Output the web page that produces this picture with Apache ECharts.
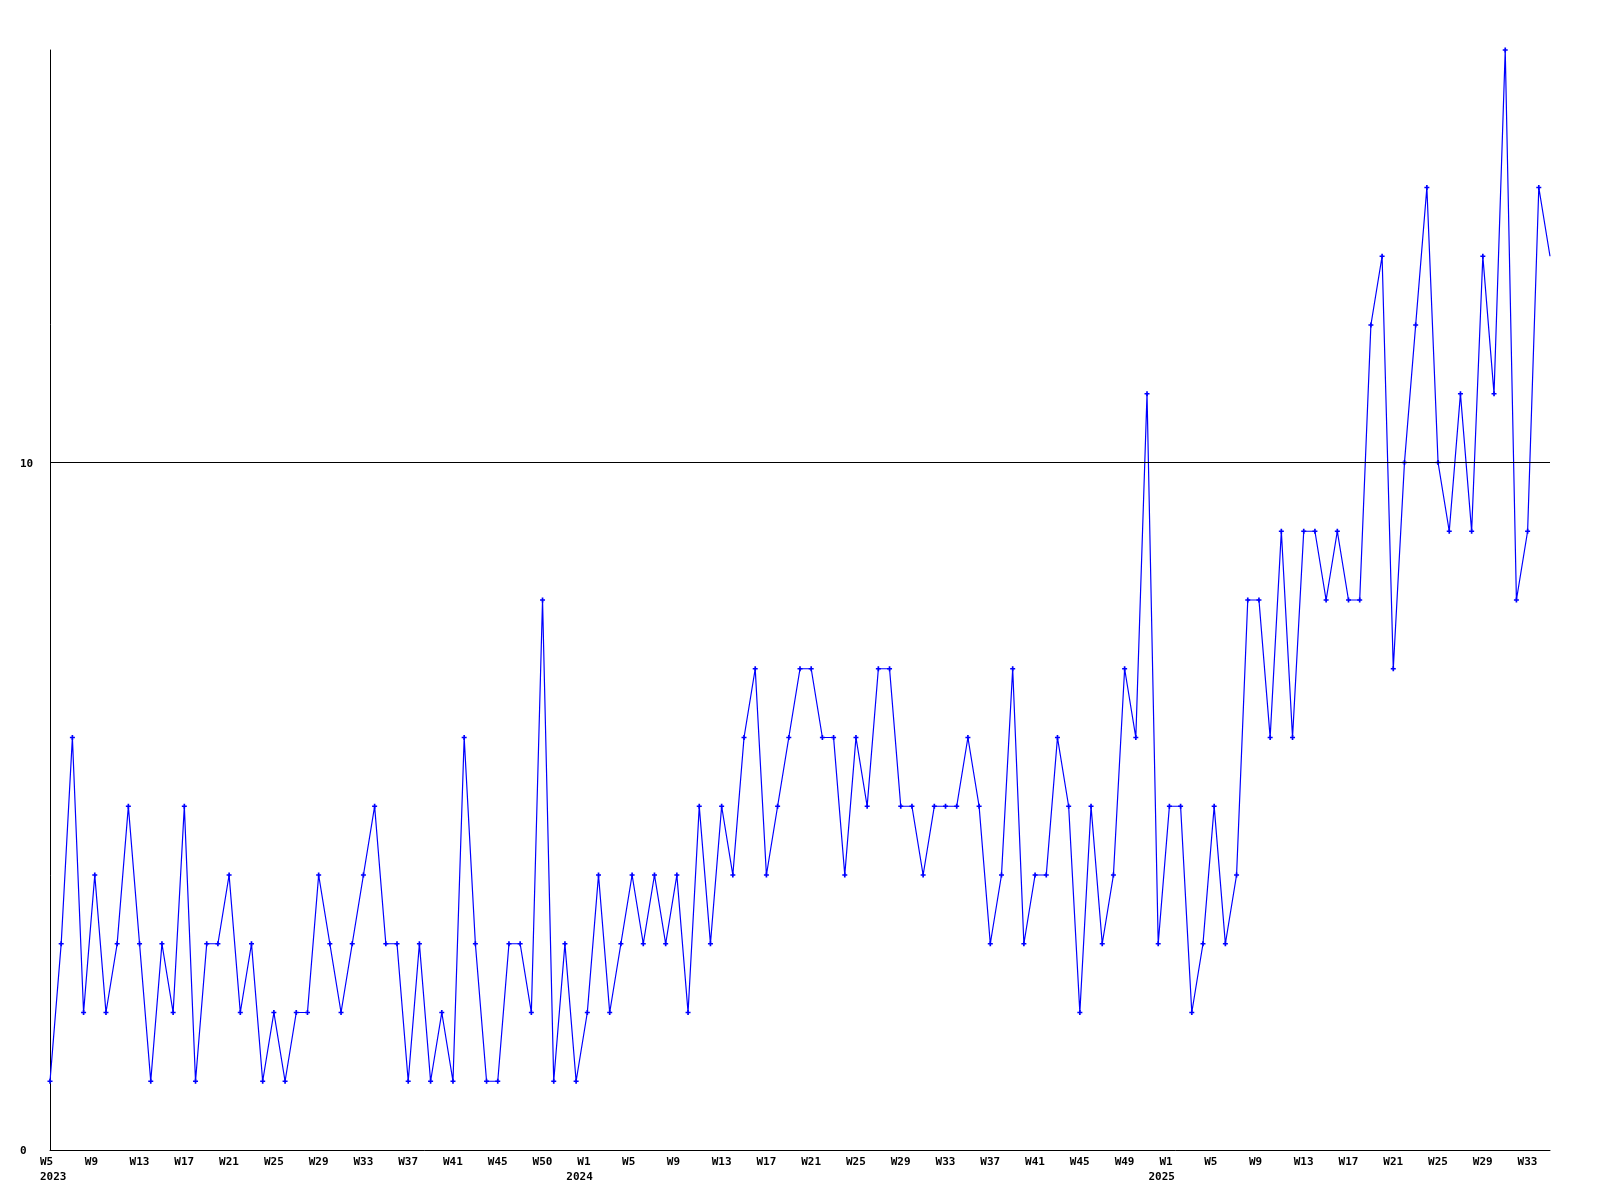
<!DOCTYPE html>
<html>
<head>
<meta charset="utf-8">
<script src="https://cdn.jsdelivr.net/npm/echarts@6/dist/echarts.min.js"></script>
<style>
  html, body { margin: 0; padding: 0; background: #ffffff; }
  #chart { width: 1600px; height: 1200px; }
</style>
</head>
<body>
<div id="chart"></div>
<script>
// ---- Data ----
const categories = [
  '2023-W05','2023-W06','2023-W07','2023-W08','2023-W09','2023-W10','2023-W11','2023-W12','2023-W13','2023-W14',
  '2023-W15','2023-W16','2023-W17','2023-W18','2023-W19','2023-W20','2023-W21','2023-W22','2023-W23','2023-W24',
  '2023-W25','2023-W26','2023-W27','2023-W28','2023-W29','2023-W30','2023-W31','2023-W32','2023-W33','2023-W34',
  '2023-W35','2023-W36','2023-W37','2023-W38','2023-W39','2023-W40','2023-W41','2023-W42','2023-W43','2023-W44',
  '2023-W45','2023-W46','2023-W47','2023-W48','2023-W49','2023-W50','2023-W51','2023-W52',
  '2024-W01','2024-W02','2024-W03','2024-W04','2024-W05','2024-W06','2024-W07','2024-W08','2024-W09','2024-W10',
  '2024-W11','2024-W12','2024-W13','2024-W14','2024-W15','2024-W16','2024-W17','2024-W18','2024-W19','2024-W20',
  '2024-W21','2024-W22','2024-W23','2024-W24','2024-W25','2024-W26','2024-W27','2024-W28','2024-W29','2024-W30',
  '2024-W31','2024-W32','2024-W33','2024-W34','2024-W35','2024-W36','2024-W37','2024-W38','2024-W39','2024-W40',
  '2024-W41','2024-W42','2024-W43','2024-W44','2024-W45','2024-W46','2024-W47','2024-W48','2024-W49','2024-W50',
  '2024-W51','2024-W52',
  '2025-W01','2025-W02','2025-W03','2025-W04','2025-W05','2025-W06','2025-W07','2025-W08','2025-W09','2025-W10',
  '2025-W11','2025-W12','2025-W13','2025-W14','2025-W15','2025-W16','2025-W17','2025-W18','2025-W19','2025-W20',
  '2025-W21','2025-W22','2025-W23','2025-W24','2025-W25','2025-W26','2025-W27','2025-W28','2025-W29','2025-W30',
  '2025-W31','2025-W32','2025-W33','2025-W34','2025-W35'
];

const counts = [
  1,3,6,2,4,2,3,5,3,1,
  3,2,5,1,3,3,4,2,3,1,
  2,1,2,2,4,3,2,3,4,5,
  3,3,1,3,1,2,1,6,3,1,
  1,3,3,2,8,1,3,1,2,4,
  2,3,4,3,4,3,4,2,5,3,
  5,4,6,7,4,5,6,7,7,6,
  6,4,6,5,7,7,5,5,4,5,
  5,5,6,5,3,4,7,3,4,4,
  6,5,2,5,3,4,7,6,11,3,
  5,5,2,3,5,3,4,8,8,6,
  9,6,9,9,8,9,8,8,12,13,
  7,10,12,14,10,9,11,9,13,11,
  16,8,9,14,13
];

// Week tick labels (category index -> text)
const weekTickIndex = [0,4,8,12,16,20,24,28,32,36,40,44,
                       48,52,56,60,64,68,72,76,80,84,88,92,96,
                       100,104,108,112,116,120,124,128,132];
const weekTickText  = ['W5','W9','W13','W17','W21','W25','W29','W33','W37','W41','W45','W50',
                       'W1','W5','W9','W13','W17','W21','W25','W29','W33','W37','W41','W45','W49',
                       'W1','W5','W9','W13','W17','W21','W25','W29','W33'];
// Year tick labels
const yearTickIndex = [0, 48, 100];
const yearTickText  = ['2023', '2024', '2025'];

const yTickLabels = [0, 10];
const yMax = 16;
const refLineValue = 10;

// ---- Chart ----
const FONT = 'DejaVu Sans Mono';
const chart = echarts.init(document.getElementById('chart'), null, { renderer: 'canvas' });

const weekMap = {};
weekTickIndex.forEach((idx, k) => { weekMap[idx] = weekTickText[k]; });
const yearMap = {};
yearTickIndex.forEach((idx, k) => { yearMap[idx] = yearTickText[k]; });

const labelBase = { fontFamily: FONT, fontWeight: 'bold', fontSize: 11, color: '#000' };
const lastIdx = counts.length - 1;
const markerPath = 'path://M2,0H4V2H6V4H4V6H2V4H0V2H2Z';

chart.setOption({
  animation: false,
  backgroundColor: '#ffffff',
  grid: { left: 50, right: 50, top: 50, bottom: 50, containLabel: false },
  xAxis: [
    {
      type: 'category',
      data: categories,
      boundaryGap: false,
      position: 'bottom',
      axisLine: { show: true, lineStyle: { color: '#000', width: 1 } },
      axisTick: { show: false },
      splitLine: { show: false },
      axisLabel: {
        interval: 0,
        margin: 7,
        formatter: (val, idx) => (weekMap[idx] !== undefined ? '{w|' + weekMap[idx] + '}' : ''),
        rich: { w: Object.assign({ width: 20, align: 'left' }, labelBase) }
      }
    },
    {
      type: 'category',
      data: categories,
      boundaryGap: false,
      position: 'bottom',
      axisLine: { show: false },
      axisTick: { show: false },
      splitLine: { show: false },
      axisLabel: {
        interval: 0,
        margin: 22,
        formatter: (val, idx) => (yearMap[idx] !== undefined ? (idx === 0 ? '{y0|' : '{y|') + yearMap[idx] + '}' : ''),
        rich: {
          y: Object.assign({ width: 42, align: 'left' }, labelBase),
          y0: Object.assign({ width: 20, align: 'left' }, labelBase)
        }
      }
    }
  ],
  yAxis: {
    type: 'value',
    min: 0,
    max: yMax,
    interval: 10,
    axisLine: { show: true, lineStyle: { color: '#000', width: 1 } },
    axisTick: { show: false },
    splitLine: { show: false },
    axisLabel: {
      align: 'left',
      margin: 30,
      formatter: (v) => (yTickLabels.indexOf(v) >= 0 ? '{t|' + v + '}' : ''),
      rich: { t: Object.assign({ padding: [3, 0, 0, 0] }, labelBase) }
    }
  },
  series: [
    {
      type: 'line',
      data: counts,
      xAxisIndex: 0,
      yAxisIndex: 0,
      showSymbol: true,
      showAllSymbol: true,
      symbol: (value, params) => (params.dataIndex === lastIdx ? 'none' : markerPath),
      symbolSize: 5,
      itemStyle: { color: '#0000ff' },
      lineStyle: { color: '#0000ff', width: 1.2 },
      emphasis: { disabled: true },
      silent: true,
      markLine: {
        silent: true,
        symbol: ['none', 'none'],
        label: { show: false },
        lineStyle: { color: '#000', width: 1, type: 'solid' },
        emphasis: { disabled: true },
        data: [{ yAxis: refLineValue }]
      }
    }
  ]
});
</script>
</body>
</html>
